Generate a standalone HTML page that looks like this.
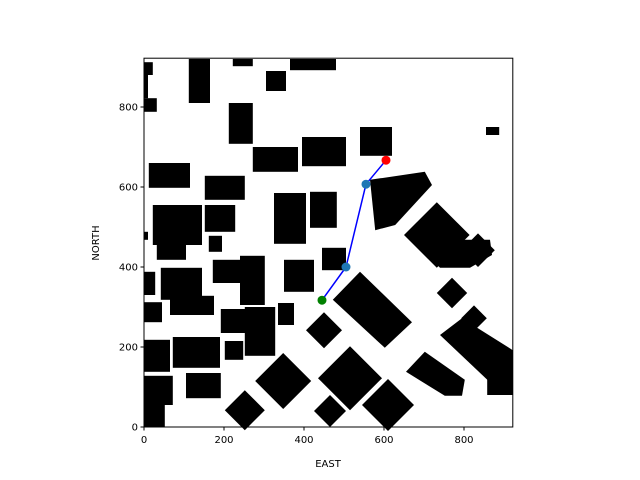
<!DOCTYPE html>
<html><head><meta charset="utf-8"><style>
body{margin:0;background:#fff}
svg{display:block;font-family:"DejaVu Sans","Liberation Sans",sans-serif}
</style></head><body>
<svg id="c" width="640" height="480">
<rect width="640" height="480" fill="#fff"/>
<g id="obs"></g>
<g id="path"></g>
<g id="axes"></g>
</svg>
<script>
const xTicks=[0,200,400,600,800];
const yTicks=[0,200,400,600,800];
const rects=[[0,880,22,912],[0,788,32,822],[0,822,10,880],[112,810,165,920],[222,902,272,920],[305,840,355,890],[365,892,480,920],[212,708,272,810],[272,638,385,700],[395,652,505,725],[540,678,620,750],[855,730,888,750],[12,598,115,660],[152,568,252,628],[22,455,145,555],[152,488,228,555],[162,438,195,478],[325,458,405,585],[415,498,482,588],[0,468,10,488],[32,418,105,468],[0,330,28,388],[42,318,145,398],[172,360,240,418],[240,305,302,428],[350,338,425,418],[445,392,505,448],[0,262,45,312],[65,280,175,328],[192,235,310,295],[252,178,328,300],[335,255,375,310],[0,138,65,218],[72,148,190,225],[202,168,248,215],[0,55,72,128],[105,72,192,135],[0,0,52,55],[858,80,922,188]];
const diamonds=[[732,480,82],[835,442,42],[348,115,70],[252,42,50],[450,242,45],[515,122,80],[610,55,65],[465,40,40],[770,335,38],[825,272,32]];
const polys=[[[472,318],[540,388],[670,262],[602,198]],[[740,230],[795,272],[922,192],[922,98],[890,88]],[[655,138],[702,188],[802,118],[795,78],[752,78]],[[565,618],[702,638],[720,605],[628,505],[578,492]],[[690,448],[728,468],[865,468],[870,430],[815,398],[740,398]]];
const pathX=[445,505,555,605];
const pathY=[317,400,607,667];
const X0=144,Y0=427,S=0.4,XMAX=922,YMAX=922;
const sx=v=>X0+v*S, sy=v=>Y0-v*S;
const NS="http://www.w3.org/2000/svg";
function mk(t,a,p){const e=document.createElementNS(NS,t);for(const k in a)e.setAttribute(k,a[k]);p.appendChild(e);return e;}
const obs=document.getElementById('obs');
rects.forEach(r=>{const e=mk('rect',{x:sx(r[0]),y:sy(r[3]),width:(r[2]-r[0])*S,height:(r[3]-r[1])*S,fill:'#000'},obs);

});
diamonds.forEach(d=>{const pts=[[d[0],d[1]+d[2]],[d[0]+d[2],d[1]],[d[0],d[1]-d[2]],[d[0]-d[2],d[1]]].map(p=>sx(p[0])+','+sy(p[1])).join(' ');
const e=mk('polygon',{points:pts,fill:'#000'},obs);

});
polys.forEach(p=>{const e=mk('polygon',{points:p.map(q=>sx(q[0])+','+sy(q[1])).join(' '),fill:'#000'},obs);

});
const pg=document.getElementById('path');
const line=mk('polyline',{points:pathX.map((x,i)=>sx(x)+','+sy(pathY[i])).join(' '),fill:'none',stroke:'#0000ff','stroke-width':1.5},pg);


pathX.forEach((x,i)=>{const c=i==0?'#008000':(i==pathX.length-1?'#ff0000':'#1f77b4');
const e=mk('circle',{cx:sx(x),cy:sy(pathY[i]),r:4.5,fill:c},pg);

});
const ax=document.getElementById('axes');
const fr=mk('rect',{x:X0,y:sy(YMAX),width:XMAX*S,height:YMAX*S,fill:'none',stroke:'#000','stroke-width':1},ax);


xTicks.forEach(v=>{mk('line',{x1:sx(v),x2:sx(v),y1:Y0,y2:Y0+3.5,stroke:'#000'},ax);
const t=mk('text',{x:sx(v),y:Y0+16,'text-anchor':'middle','font-size':10},ax);t.textContent=v;

});
yTicks.forEach(v=>{mk('line',{x1:X0-3.5,x2:X0,y1:sy(v),y2:sy(v),stroke:'#000'},ax);
const t=mk('text',{x:X0-6,y:sy(v)+3.5,'text-anchor':'end','font-size':10},ax);t.textContent=v;

});
const xl=mk('text',{x:328,y:467,'text-anchor':'middle','font-size':10},ax);xl.textContent='EAST';


const yl=mk('text',{x:99,y:243,'text-anchor':'middle','font-size':10,transform:'rotate(-90 99 243)'},ax);yl.textContent='NORTH';


</script>
</body></html>
